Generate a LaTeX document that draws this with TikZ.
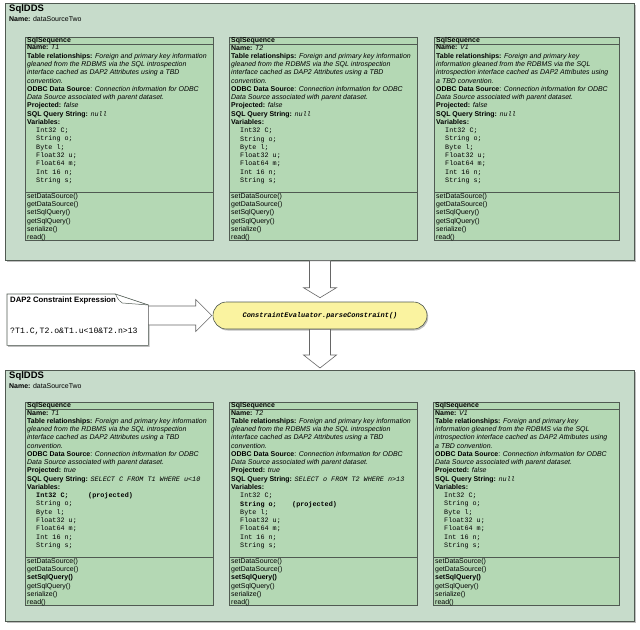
\documentclass[tikz,border=0pt]{standalone}
\usepackage{fontspec}
\setmainfont{Liberation Sans}
\setmonofont{Liberation Mono}
\usepackage{tikz}
\usetikzlibrary{calc}
\usetikzlibrary{positioning}
\usetikzlibrary{shapes.misc}
\usetikzlibrary{shadows}

\definecolor{ddsfill}{RGB}{199,220,203}
\definecolor{seqfill}{RGB}{180,216,180}
\definecolor{edgegray}{RGB}{80,90,82}
\definecolor{evalfill}{RGB}{250,243,160}

\newcommand{\seqfont}{\fontsize{7}{8.3}\selectfont}
\newcommand{\qry}[1]{{\fontsize{6.8}{8.3}\selectfont\ttfamily\itshape #1}}
\newcommand{\tablerel}{\textbf{Table relationships:} \textit{Foreign and primary key information}\\\textit{gleaned from the RDBMS via the SQL introspection}\\\textit{interface cached as DAP2 Attributes using a TBD}\\\textit{convention.}}
\newcommand{\tablerelV}{\textbf{Table relationships:} \textit{Foreign and primary key}\\\textit{information gleaned from the RDBMS via the SQL}\\\textit{introspection interface cached as DAP2 Attributes using}\\\textit{a TBD convention.}}
\newcommand{\odbcsrc}{\textbf{ODBC Data Source}: \textit{Connection information for ODBC}\\\textit{Data Source associated with parent dataset.}}
\newcommand{\seqvar}[1]{\hspace*{9bp}{\fontsize{6.8}{8.3}\selectfont\ttfamily #1}}
\newcommand{\seqvarp}[1]{\hspace*{9bp}{\fontsize{6.8}{8.3}\selectfont\ttfamily\bfseries\makebox[52bp][l]{#1}(projected)}}
\newcommand{\seqops}[1]{setDataSource()\\getDataSource()\\#1\\getSqlQuery()\\serialize()\\read()}
% one SqlSequence box: name, left, top, right, attributes, operations
\newcommand{\sqlseq}[6]{%
	\draw[seqbox] (#2,#3) rectangle (#4,#3+203);
	\draw[seqbox] (#2,#3+7) -- (#4,#3+7);
	\draw[seqbox] (#2,#3+155) -- (#4,#3+155);
	\node[seqtext, inner ysep=0pt, font=\seqfont\bfseries] (#1) at (#2,#3) {SqlSequence};
	\node[seqtext] (#1-attr) at (#2,#3+7) {#5};
	\node[seqtext] (#1-ops) at (#2,#3+155) {#6};
}

\begin{document}
\begin{tikzpicture}[
	x=1bp, y=-1bp,
	shadowed/.style = {drop shadow={shadow xshift=1.2bp, shadow yshift=-1.5bp, fill=black, opacity=.25}},
	ddsbox/.style = {draw=edgegray, fill=ddsfill, line width=0.7pt, shadowed, anchor=north west, inner sep=0pt, minimum width=629bp},
	ddstitle/.style = {anchor=north west, inner sep=0pt, font=\fontsize{9.5}{10}\selectfont\bfseries},
	ddsname/.style = {anchor=north west, inner sep=0pt, font=\fontsize{7}{8}\selectfont},
	seqbox/.style = {draw=edgegray, fill=seqfill, line width=0.6pt},
	seqtext/.style = {anchor=north west, inner xsep=2bp, inner ysep=1bp, align=left, font=\seqfont},
	evalnode/.style = {rounded rectangle, draw=edgegray, fill=evalfill, line width=0.6pt, shadowed, minimum width=214bp, minimum height=27bp, inner sep=0pt, font=\fontsize{7}{8}\selectfont\ttfamily\bfseries\itshape},
	notebox/.style = {draw=edgegray, fill=white, line width=0.6pt, shadowed},
	blockarrow/.style = {draw=gray!80!black, fill=white, line width=0.6pt}
	]
	\useasboundingbox (0,0) rectangle (640,630);

	% source dataset
	\node[ddsbox, minimum height=257bp] (ddsA) at (5,3) {};
	\node[ddstitle] (ddsA-title) at ($(ddsA.north west)+(4,1.5)$) {SqlDDS};
	\node[ddsname, below=3bp of ddsA-title.south west, anchor=north west] (ddsA-name) {\textbf{Name:} dataSourceTwo};

	\sqlseq{seqT1}{25}{37}{213}{\textbf{Name:} \textit{T1}\\\tablerel\\\odbcsrc\\\textbf{Projected:} \textit{false}\\\textbf{SQL Query String:} \qry{null}\\\textbf{Variables:}\\
		\seqvar{Int32 C;}\\\seqvar{String o;}\\\seqvar{Byte l;}\\\seqvar{Float32 u;}\\\seqvar{Float64 m;}\\\seqvar{Int 16 n;}\\\seqvar{String s;}}{\seqops{setSqlQuery()}}
	\sqlseq{seqT2}{229}{37}{417}{\textbf{Name:} \textit{T2}\\\tablerel\\\odbcsrc\\\textbf{Projected:} \textit{false}\\\textbf{SQL Query String:} \qry{null}\\\textbf{Variables:}\\
		\seqvar{Int32 C;}\\\seqvar{String o;}\\\seqvar{Byte l;}\\\seqvar{Float32 u;}\\\seqvar{Float64 m;}\\\seqvar{Int 16 n;}\\\seqvar{String s;}}{\seqops{setSqlQuery()}}
	\sqlseq{seqV1}{434}{37}{619}{\textbf{Name:} \textit{V1}\\\tablerelV\\\odbcsrc\\\textbf{Projected:} \textit{false}\\\textbf{SQL Query String:} \qry{null}\\\textbf{Variables:}\\
		\seqvar{Int32 C;}\\\seqvar{String o;}\\\seqvar{Byte l;}\\\seqvar{Float32 u;}\\\seqvar{Float64 m;}\\\seqvar{Int 16 n;}\\\seqvar{String s;}}{\seqops{setSqlQuery()}}

	% constraint expression and evaluator
	\node[evalnode] (eval) at (320,315.5) {ConstraintEvaluator.parseConstraint()};

	\node[minimum width=141bp, minimum height=51bp, inner sep=0pt, anchor=north west] (cexpr) at (7,294) {};
	\draw[notebox] (cexpr.north west) -- ($(cexpr.north east)+(-33,0)$) -- ($(cexpr.north east)+(0,11)$) -- (cexpr.south east) -- (cexpr.south west) -- cycle;
	\draw[draw=edgegray, line width=0.5pt] ($(cexpr.north east)+(-33,0)$) .. controls ($(cexpr.north east)+(-30,6)$) .. ($(cexpr.north east)+(-26,9)$) -- ($(cexpr.north east)+(0,11)$);
	\node[anchor=north west, inner sep=0pt, font=\fontsize{7.8}{9}\selectfont\bfseries] (cexpr-title) at ($(cexpr.north west)+(3,3)$) {DAP2 Constraint Expression};
	\node[anchor=west, inner sep=0pt, font=\fontsize{8.2}{9}\selectfont\ttfamily] (cexpr-text) at ($(cexpr.west)+(3,11.5)$) {?T1.C,T2.o\&T1.u<10\&T2.n>13};

	% result dataset
	\node[ddsbox, minimum height=251bp] (ddsB) at (5,370) {};
	\node[ddstitle] (ddsB-title) at ($(ddsB.north west)+(4,1.5)$) {SqlDDS};
	\node[ddsname, below=3bp of ddsB-title.south west, anchor=north west] (ddsB-name) {\textbf{Name:} dataSourceTwo};

	\sqlseq{resT1}{25}{402}{213}{\textbf{Name:} \textit{T1}\\\tablerel\\\odbcsrc\\\textbf{Projected:} \textit{true}\\\textbf{SQL Query String:} \qry{SELECT C FROM T1 WHERE u<10}\\\textbf{Variables:}\\
		\seqvarp{Int32 C;}\\\seqvar{String o;}\\\seqvar{Byte l;}\\\seqvar{Float32 u;}\\\seqvar{Float64 m;}\\\seqvar{Int 16 n;}\\\seqvar{String s;}}{\seqops{\textbf{setSqlQuery()}}}
	\sqlseq{resT2}{229}{402}{417}{\textbf{Name:} \textit{T2}\\\tablerel\\\odbcsrc\\\textbf{Projected:} \textit{true}\\\textbf{SQL Query String:} \qry{SELECT o FROM T2 WHERE n>13}\\\textbf{Variables:}\\
		\seqvar{Int32 C;}\\\seqvarp{String o;}\\\seqvar{Byte l;}\\\seqvar{Float32 u;}\\\seqvar{Float64 m;}\\\seqvar{Int 16 n;}\\\seqvar{String s;}}{\seqops{\textbf{setSqlQuery()}}}
	\sqlseq{resV1}{433}{402}{619}{\textbf{Name:} \textit{V1}\\\tablerelV\\\odbcsrc\\\textbf{Projected:} \textit{false}\\\textbf{SQL Query String:} \qry{null}\\\textbf{Variables:}\\
		\seqvar{Int32 C;}\\\seqvar{String o;}\\\seqvar{Byte l;}\\\seqvar{Float32 u;}\\\seqvar{Float64 m;}\\\seqvar{Int 16 n;}\\\seqvar{String s;}}{\seqops{\textbf{setSqlQuery()}}}

	% block arrows
	\coordinate (in-top) at (eval.north |- ddsA.south);
	\coordinate (in-left) at (cexpr.east |- eval.west);
	\coordinate (out-bot) at (eval.south |- ddsB.north);
	\draw[blockarrow] ($(in-top)+(-10.5,0)$) -- ($(in-top)+(10.5,0)$) -- ($(eval.north)+(10.5,-14)$) -- ($(eval.north)+(16.5,-14)$) -- ($(eval.north)+(0,-4)$) -- ($(eval.north)+(-16.5,-14)$) -- ($(eval.north)+(-10.5,-14)$) -- cycle;
	\draw[blockarrow] ($(in-left)+(0,-9.5)$) -- ($(eval.west)+(-17,-9.5)$) -- ($(eval.west)+(-17,-16)$) -- ($(eval.west)+(-1,0)$) -- ($(eval.west)+(-17,16)$) -- ($(eval.west)+(-17,9.5)$) -- ($(in-left)+(0,9.5)$) -- cycle;
	\draw[blockarrow] ($(eval.south)+(-10.5,0)$) -- ($(eval.south)+(10.5,0)$) -- ($(out-bot)+(10.5,-15)$) -- ($(out-bot)+(16.5,-15)$) -- ($(out-bot)+(0,-2)$) -- ($(out-bot)+(-16.5,-15)$) -- ($(out-bot)+(-10.5,-15)$) -- cycle;

\end{tikzpicture}
\end{document}
